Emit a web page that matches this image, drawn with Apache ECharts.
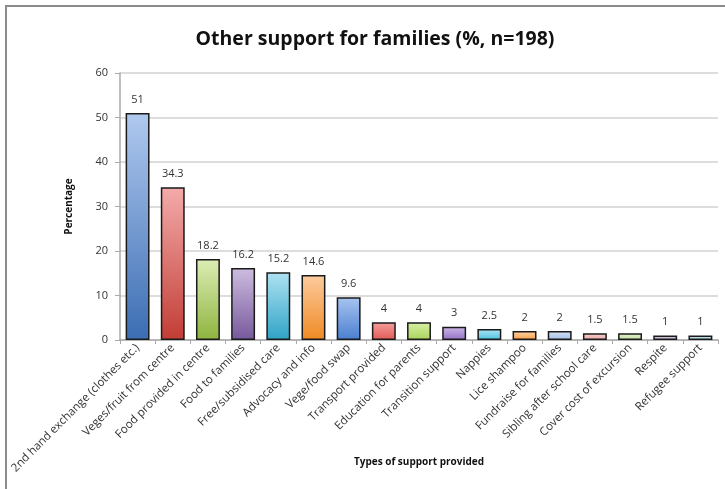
<!DOCTYPE html>
<html><head><meta charset="utf-8">
<script src="https://cdn.jsdelivr.net/npm/echarts@6/dist/echarts.min.js"></script>
<style>html,body{margin:0;padding:0;background:#fff}#c{width:725px;height:489px}</style>
</head><body><div id="c"></div>
<script>
const categories = ["2nd hand exchange (clothes etc.)","Veges/fruit from centre","Food provided in centre","Food to families","Free/subsidised care","Advocacy and info","Vege/food swap","Transport provided","Education for parents","Transition support","Nappies","Lice shampoo","Fundraise for families","Sibling after school care","Cover cost of excursion","Respite","Refugee support"];
const values = [51,34.3,18.2,16.2,15.2,14.6,9.6,4,4,3,2.5,2,2,1.5,1.5,1,1];
const yTicks = [0,10,20,30,40,50,60];
const barColors = [
  ["#b0c9ef","#3b6db3"],["#f3abaa","#c23d35"],["#dcedb5","#8eb43f"],["#cdbde0","#76589c"],
  ["#aee2f2","#2fa3c6"],["#fdcb9e","#ef8a24"],["#a8c4f0","#4a7fd0"],["#f59f9c","#e25a55"],
  ["#d9f0a6","#a9d35a"],["#cdb7e8","#9470c4"],["#aee6f5","#4cc0e0"],["#fdd3a6","#f7a04a"],
  ["#d5e1f5","#a7bfe6"],["#f8d3d2","#e8a4a2"],["#e6f2d2","#c3de9d"],["#ddd5ea","#b8aacd"],["#d3ebf0","#9fd0dc"]
];
const chart = echarts.init(document.getElementById('c'));
chart.setOption({
  animation:false,
  title:{text:"Other support for families (%, n=198)",left:370,top:24,textAlign:'center',textStyle:{fontFamily:'Open Sans, sans-serif',fontSize:19.5,fontWeight:'bold',color:'#111'}},
  graphic:[{type:'rect',shape:{x:6,y:6,width:800,height:600},style:{fill:'none',stroke:'#8c8c8c',lineWidth:2},silent:true}],
  grid:{left:120,right:7,top:73,bottom:149,containLabel:false,outerBoundsMode:'none'},
  xAxis:{type:'category',data:categories,name:'Types of support provided',nameLocation:'middle',nameGap:117,nameMoveOverlap:false,
    nameTextStyle:{fontFamily:'Open Sans, sans-serif',fontSize:10,fontWeight:'bold',color:'#111'},
    axisLine:{lineStyle:{color:'#aaa',width:1.5}},axisTick:{show:true,alignWithLabel:false,length:4,lineStyle:{color:'#aaa'}},
    axisLabel:{rotate:45,interval:0,fontFamily:'Open Sans, sans-serif',fontSize:11.5,color:'#333',margin:6}},
  yAxis:{type:'value',min:0,max:60,interval:10,name:'Percentage',nameLocation:'middle',nameGap:46,nameMoveOverlap:false,
    nameTextStyle:{fontFamily:'Open Sans, sans-serif',fontSize:10,fontWeight:'bold',color:'#111'},
    axisLine:{show:true,lineStyle:{color:'#aaa',width:1.5}},axisTick:{show:true,length:5,lineStyle:{color:'#aaa'}},
    splitLine:{lineStyle:{color:'#d2d2d2',width:1.5}},
    axisLabel:{fontFamily:'Open Sans, sans-serif',fontSize:11,color:'#333',margin:12,
      formatter:v=>yTicks.includes(v)?String(v):''}},
  series:[{type:'bar',barCategoryGap:'32%',
    data:values.map((v,i)=>({value:v,itemStyle:{color:new echarts.graphic.LinearGradient(0,0,0,1,[{offset:0,color:barColors[i][0]},{offset:1,color:barColors[i][1]}])}})),
    itemStyle:{borderColor:'#1a1a1a',borderWidth:1.5},
    label:{show:true,position:'top',distance:8,fontFamily:'Open Sans, sans-serif',fontSize:11,color:'#333'}}]
});
</script></body></html>
